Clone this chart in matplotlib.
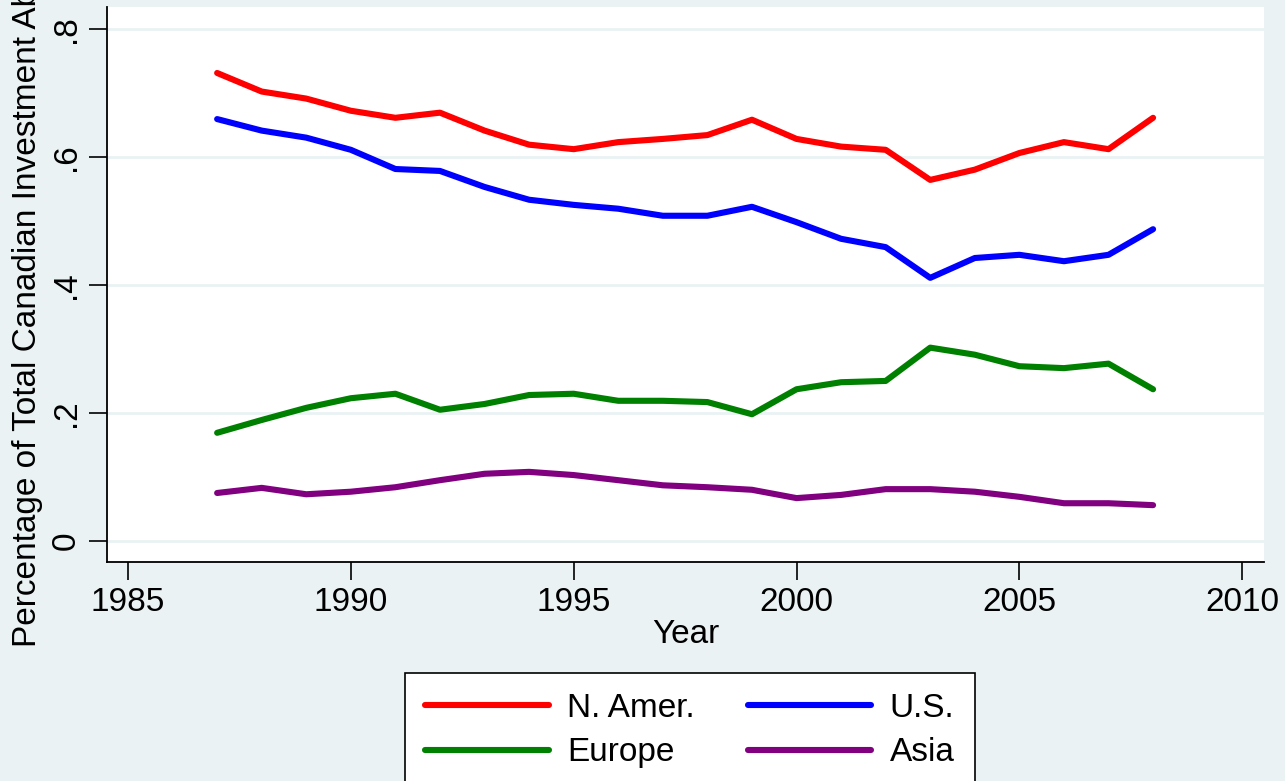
"""Canadian investment abroad by destination, share of total."""
import matplotlib
matplotlib.use("Agg")
import matplotlib.pyplot as plt

years = list(range(1987, 2009))
n_amer = [0.731, 0.702, 0.691, 0.672, 0.661, 0.669, 0.641, 0.619, 0.612, 0.623, 0.628,
          0.634, 0.658, 0.628, 0.616, 0.611, 0.564, 0.580, 0.606, 0.623, 0.612, 0.661]
us = [0.659, 0.641, 0.630, 0.611, 0.581, 0.578, 0.553, 0.533, 0.525, 0.519, 0.508,
      0.508, 0.522, 0.498, 0.472, 0.459, 0.411, 0.442, 0.447, 0.437, 0.447, 0.487]
europe = [0.169, 0.189, 0.208, 0.223, 0.230, 0.205, 0.214, 0.228, 0.230, 0.219, 0.219,
          0.217, 0.198, 0.237, 0.248, 0.250, 0.302, 0.291, 0.273, 0.270, 0.277, 0.237]
asia = [0.075, 0.083, 0.073, 0.077, 0.084, 0.095, 0.105, 0.108, 0.103, 0.095, 0.087,
        0.084, 0.080, 0.067, 0.072, 0.081, 0.081, 0.077, 0.069, 0.059, 0.059, 0.056]

series = ["N. Amer.", "U.S.", "Europe", "Asia"]
colors = ["#ff0000", "#0000ff", "#008000", "#800080"]
yticks = [0, 0.2, 0.4, 0.6, 0.8]
ytick_labels = ["0", ".2", ".4", ".6", ".8"]
xticks = [1985, 1990, 1995, 2000, 2005, 2010]

plt.rcParams["font.family"] = ["Liberation Sans", "DejaVu Sans"]

bg = "#eaf2f3"
fig = plt.figure(figsize=(12.85, 7.81), dpi=100, facecolor=bg)
ax = fig.add_axes([0.0833, 0.2804, 0.9004, 0.7106])
ax.set_facecolor("white")

lines = []
for name, vals, c in zip(series, [n_amer, us, europe, asia], colors):
    ln, = ax.plot(years, vals, color=c, lw=4.4, label=name, solid_capstyle="round")
    lines.append(ln)

ax.set_xlim(1984.53, 2010.49)
ax.set_ylim(-0.0328, 0.834)
ax.set_xticks(xticks)
ax.set_xticklabels([str(x) for x in xticks], fontsize=24)
ax.set_yticks(yticks)
ax.set_yticklabels(ytick_labels, fontsize=24, rotation=90, va="center")
ax.tick_params(axis="both", length=13, width=1.2, color="black", pad=5)
ax.grid(axis="y", color=bg, lw=2)
ax.set_axisbelow(True)

for side in ["top", "right"]:
    ax.spines[side].set_visible(False)
for side in ["left", "bottom"]:
    ax.spines[side].set_linewidth(1.3)

ax.set_xlabel("Year", fontsize=24, labelpad=1)
ax.set_ylabel("Percentage of Total Canadian Investment Abroad", fontsize=24, labelpad=6)

# legend fills row by row: N. Amer., U.S. / Europe, Asia
order = [0, 2, 1, 3]
leg = fig.legend([lines[i] for i in order], [series[i] for i in order],
                 loc="upper center", bbox_to_anchor=(0.537, 0.1383), ncol=2,
                 fontsize=24, frameon=True, fancybox=False, framealpha=1,
                 handlelength=3.7, columnspacing=1.6, handletextpad=0.55,
                 labelspacing=0.4, borderpad=0.6, borderaxespad=0)
leg.get_frame().set_edgecolor("black")
leg.get_frame().set_facecolor("white")
leg.get_frame().set_linewidth(1.2)

fig.savefig("out.png", dpi=100, facecolor=bg)
